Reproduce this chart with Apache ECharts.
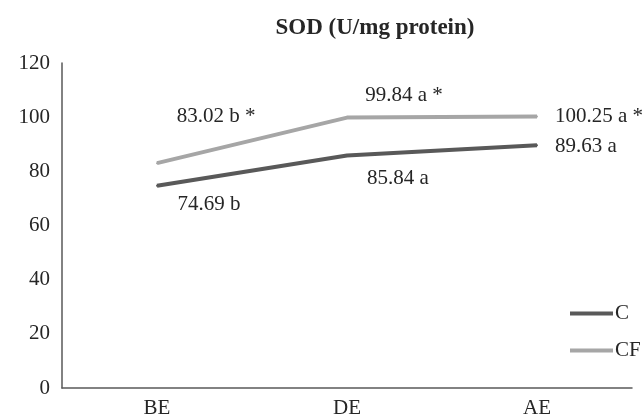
<!DOCTYPE html>
<html>
<head>
<meta charset="utf-8">
<script src="https://cdn.jsdelivr.net/npm/echarts@6/dist/echarts.min.js"></script>
<style>html,body{margin:0;padding:0;background:#fff}#c{width:642px;height:419px}</style>
</head>
<body>
<div id="c"></div>
<script>
var categories = ['BE', 'DE', 'AE'];
var seriesNames = ['C', 'CF'];
var valuesC = [74.69, 85.84, 89.63];
var valuesCF = [83.02, 99.84, 100.25];
var labelsC = ['74.69 b', '85.84 a', '89.63 a'];
var labelsCF = ['83.02 b *', '99.84 a *', '100.25 a *'];
var yTicks = [0, 20, 40, 60, 80, 100, 120];
var titleText = 'SOD (U/mg protein)';

var FONT = '"Liberation Serif", "Times New Roman", serif';
var labelOffsetsC = [[52, 19, 'center'], [51, 23, 'center'], [18, 1, 'left']];
var labelOffsetsCF = [[59, -47, 'center'], [57, -22, 'center'], [18, 0, 'left']];

function buildData(vals, labels, offs) {
  return vals.map(function (v, i) {
    return {
      value: v,
      label: {
        show: true, position: 'inside', offset: [offs[i][0], offs[i][1]],
        align: offs[i][2], verticalAlign: 'middle',
        formatter: labels[i], fontFamily: FONT, fontSize: 21, color: '#262626'
      }
    };
  });
}

var chart = echarts.init(document.getElementById('c'), null, {renderer: 'canvas'});
chart.setOption({
  animation: false,
  title: {
    text: titleText, left: 370, top: 12, textAlign: 'center',
    textStyle: {fontFamily: FONT, fontWeight: 'bold', fontSize: 23, color: '#262626'}
  },
  grid: {left: 62, right: 10, top: 63, bottom: 31, containLabel: false},
  legend: {
    orient: 'vertical', left: 565, top: 298,
    icon: 'rect', itemWidth: 43, itemHeight: 4, itemGap: 16,
    textStyle: {fontFamily: FONT, fontSize: 21, color: '#262626', padding: [0, 0, 0, -3]},
    data: seriesNames
  },
  xAxis: {
    type: 'category', data: categories, boundaryGap: true,
    axisLine: {lineStyle: {color: '#595959', width: 1.5}},
    axisTick: {show: false},
    axisLabel: {fontFamily: FONT, fontSize: 21, color: '#262626', margin: 10}
  },
  yAxis: {
    type: 'value', min: yTicks[0], max: yTicks[yTicks.length - 1], interval: yTicks[1] - yTicks[0],
    axisLine: {show: true, lineStyle: {color: '#595959', width: 1.5}},
    axisTick: {show: false},
    splitLine: {show: false},
    axisLabel: {fontFamily: FONT, fontSize: 21, color: '#262626', margin: 12}
  },
  series: [
    {
      name: seriesNames[0], type: 'line', data: buildData(valuesC, labelsC, labelOffsetsC),
      symbol: 'circle', symbolSize: 2, showSymbol: true,
      color: '#595959', itemStyle: {color: '#595959'},
      lineStyle: {color: '#595959', width: 4}
    },
    {
      name: seriesNames[1], type: 'line', data: buildData(valuesCF, labelsCF, labelOffsetsCF),
      symbol: 'circle', symbolSize: 2, showSymbol: true,
      color: '#a6a6a6', itemStyle: {color: '#a6a6a6'},
      lineStyle: {color: '#a6a6a6', width: 4}
    }
  ]
});
</script>
</body>
</html>
